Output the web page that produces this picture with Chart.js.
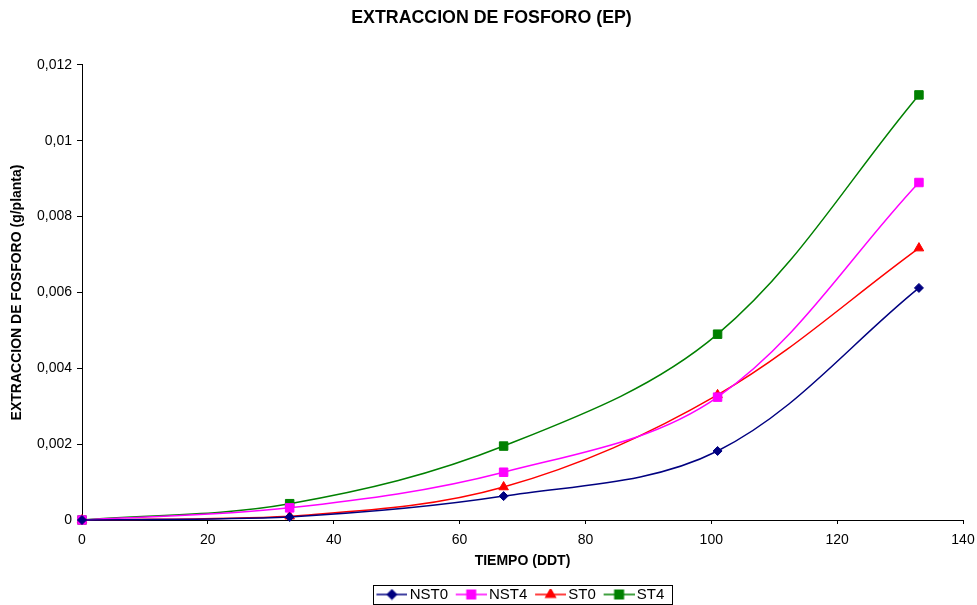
<!DOCTYPE html>
<html>
<head>
<meta charset="utf-8">
<script src="https://cdn.jsdelivr.net/npm/chart.js@4.4.1/dist/chart.umd.min.js"></script>
<style>
  html, body { margin:0; padding:0; background:#fff; }
  #wrap { width:977px; height:605px; }
</style>
</head>
<body>
<div id="wrap"><canvas id="chart" width="977" height="605"></canvas></div>
<script>
// days after transplant (x) and phosphorus uptake per plant (g)
const tiempo = [0, 33, 67, 101, 133];
const nst0 = [0, 0.00008, 0.00063, 0.00182, 0.00612];
const nst4 = [0, 0.00032, 0.00126, 0.00324, 0.00890];
const st0  = [0, 0.00010, 0.00087, 0.00330, 0.00717];
const st4  = [0, 0.00043, 0.00195, 0.00490, 0.01121];
const series = [
  { label:'NST0', data:nst0, color:'#000080', marker:'rectRot', r:4.5 },
  { label:'NST4', data:nst4, color:'#FF00FF', marker:'rect', r:6 },
  { label:'ST0',  data:st0,  color:'#FF0000', marker:'triangle', r:5.5 },
  { label:'ST4',  data:st4,  color:'#008000', marker:'rect', r:6 },
];
const xTicks = { min:0, max:140, step:20 };
const yTicks = { min:0, max:0.012, step:0.002 };

const ink = '#000';
const font = "'Liberation Sans', Arial, sans-serif";

// legend icon: short line with the marker in the middle (Excel style).
// canvas is wider than the line so the icon sits close to its text
function legendIcon(s){
  const c = document.createElement('canvas');
  c.width = 40; c.height = 12;
  const g = c.getContext('2d');
  g.strokeStyle = s.color; g.fillStyle = s.color; g.lineWidth = 1.5;
  g.beginPath(); g.moveTo(9, 6); g.lineTo(40, 6); g.stroke();
  Chart.helpers.drawPoint(g, { pointStyle:s.marker, radius:s.r, rotation:0, borderWidth:1 }, 24.5, 6);
  g.fill();
  return c;
}

// framed legend, nudged a little left like the original
const legendBox = {
  id:'legendBox',
  afterLayout(chart){
    const lg = chart.legend; if(!lg) return;
    lg.left -= 4; lg.right -= 4;
  },
  afterDraw(chart){
    const lg = chart.legend; if(!lg || !lg.legendHitBoxes.length) return;
    const hb = lg.legendHitBoxes;
    const l = Math.min(...hb.map(h=>h.left));
    const r = Math.max(...hb.map(h=>h.left + h.width)) + 7;
    const t = hb[0].top - 2, b = hb[0].top + hb[0].height + 2;
    const ctx = chart.ctx;
    ctx.save(); ctx.strokeStyle = ink; ctx.lineWidth = 1;
    ctx.strokeRect(Math.round(l)+0.5, Math.round(t)+0.5, Math.round(r-l), Math.round(b-t));
    ctx.restore();
  }
};

const fmt = v => v === 0 ? '0' : String(Number(v.toFixed(3))).replace('.', ',');

new Chart(document.getElementById('chart').getContext('2d'), {
  type:'line',
  data:{
    datasets: series.map(s=>({
      label:s.label,
      data: tiempo.map((t,i)=>({ x:t, y:s.data[i] })),
      borderColor:s.color, backgroundColor:s.color, borderWidth:1.5,
      pointStyle:s.marker, pointRadius:s.r, pointHoverRadius:s.r,
      pointBorderWidth:1, tension:0.35, fill:false, clip:false
    }))
  },
  options:{
    responsive:false, animation:false, devicePixelRatio:1,
    layout:{ padding:{ left:20, right:14, top:0, bottom:-7 } },
    plugins:{
      title:{ display:true, text:'EXTRACCION DE FOSFORO (EP)', color:ink,
        font:{ family:font, size:17.8, weight:'bold' }, padding:{ top:7, bottom:36.6 } },
      legend:{ position:'bottom', fullSize:false,
        labels:{ color:ink, font:{ family:font, size:15 }, usePointStyle:true, pointStyleWidth:29.5, boxHeight:12, padding:4,
          generateLabels: chart => chart.data.datasets.map((d,i)=>({
            text:d.label, pointStyle:legendIcon(series[i]), fillStyle:d.borderColor,
            strokeStyle:d.borderColor, lineWidth:0, hidden:false, datasetIndex:i, fontColor:ink })) } },
      tooltip:{ enabled:false }
    },
    scales:{
      x:{ type:'linear', min:xTicks.min, max:xTicks.max,
        ticks:{ stepSize:xTicks.step, color:ink, padding:8, font:{ family:font, size:14 } },
        grid:{ drawOnChartArea:false, color:ink, tickLength:4 },
        border:{ color:ink, width:1 },
        title:{ display:true, text:'TIEMPO (DDT)', color:ink, font:{ family:font, size:14, weight:'bold' }, padding:{ top:2, bottom:13 } },
        afterFit: s => { s.height = 63; s.paddingLeft = 0; s.paddingRight = 0; } },
      y:{ type:'linear', min:yTicks.min, max:yTicks.max,
        ticks:{ stepSize:yTicks.step, color:ink, padding:5, font:{ family:font, size:14 }, callback:fmt },
        grid:{ drawOnChartArea:false, color:ink, tickLength:5 },
        border:{ color:ink, width:1 },
        title:{ display:true, text:'EXTRACCION DE FOSFORO (g/planta)', color:ink, font:{ family:font, size:14, weight:'bold' }, padding:{ top:-11, bottom:0 } },
        afterFit: s => { s.width = 62; } }
    }
  },
  plugins:[legendBox]
});
</script>
</body>
</html>
